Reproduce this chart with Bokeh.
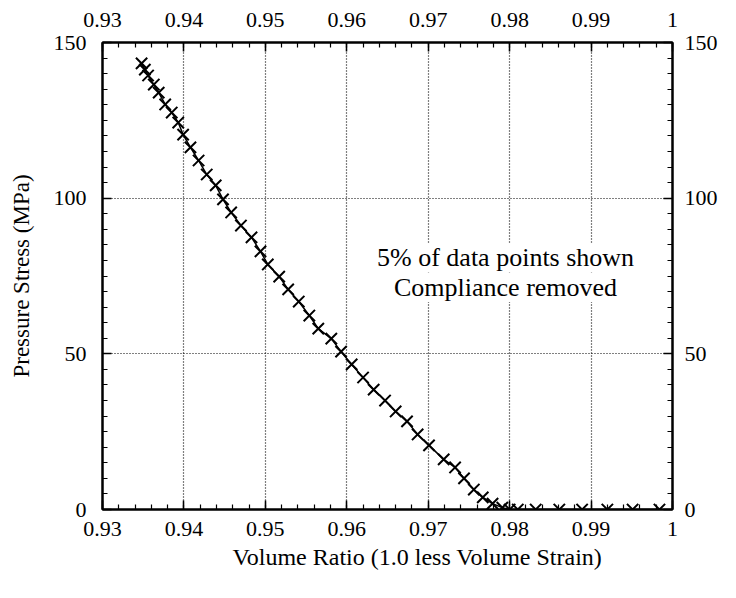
import numpy as np
from bokeh.plotting import figure
from bokeh.models import Range1d, LinearAxis, FixedTicker, ColumnDataSource, Label, Title
from bokeh.embed import file_html
from bokeh.resources import INLINE

# Data
volume_ratio = [0.9348, 0.9352, 0.9356, 0.9363, 0.9369, 0.9377, 0.9385, 0.9393, 0.9399,
                0.9408, 0.9418, 0.9428, 0.9439, 0.9448, 0.9458, 0.9470, 0.9483, 0.9494,
                0.9503, 0.9517, 0.9528, 0.9541, 0.9554, 0.9565, 0.9581, 0.9593, 0.9606,
                0.9620, 0.9633, 0.9647, 0.9660, 0.9674, 0.9687, 0.9701, 0.9719, 0.9733,
                0.9744, 0.9756, 0.9767, 0.9779, 0.9791, 0.9800, 0.9810, 0.9832, 0.9861,
                0.9889, 0.9920, 0.9951, 0.9984]
pressure = [143.3, 141.3, 139.4, 136.5, 133.9, 130.1, 127.5, 124.3, 120.4,
            116.3, 112.1, 107.6, 104.1, 99.6, 95.4, 91.2, 87.4, 82.9,
            78.7, 74.8, 70.7, 66.8, 62.3, 58.1, 54.9, 50.7, 46.6,
            42.4, 38.5, 35.0, 31.5, 28.3, 24.1, 20.6, 16.1, 13.5,
            10.0, 6.4, 3.9, 1.9, 0.6, 0.0, 0.0, 0.0, 0.0,
            0.0, 0.0, 0.0, 0.0]

x_ticks = [0.93, 0.94, 0.95, 0.96, 0.97, 0.98, 0.99, 1.0]
x_tick_labels = ["0.93", "0.94", "0.95", "0.96", "0.97", "0.98", "0.99", "1"]
y_ticks = [0, 50, 100, 150]
y_tick_labels = ["0", "50", "100", "150"]

note_lines = ["5% of data points shown", "Compliance removed"]

x_label = "Volume Ratio (1.0 less Volume Strain)"
y_label = "Pressure Stress (MPa)"

FONT = "Liberation Serif"
FS = "22px"
FS_TITLE = "23px"

x_minor = [round(v, 4) for v in np.arange(x_ticks[0], x_ticks[-1] + 1e-9, 0.002)]
y_minor = list(range(y_ticks[0], y_ticks[-1] + 1, 5))

p = figure(width=720, height=582, output_backend="svg", toolbar_location=None,
           x_range=Range1d(x_ticks[0], x_ticks[-1]), y_range=Range1d(y_ticks[0], y_ticks[-1]),
           min_border_left=102, min_border_right=47, min_border_top=42, min_border_bottom=73,
           x_axis_location="below", y_axis_location="left")
p.background_fill_color = "white"
p.border_fill_color = "white"
p.outline_line_color = "black"
p.outline_line_width = 2

xt = FixedTicker(ticks=x_ticks, minor_ticks=x_minor)
yt = FixedTicker(ticks=y_ticks, minor_ticks=y_minor)

p.add_layout(LinearAxis(), "above")
p.add_layout(LinearAxis(), "right")

xover = dict(zip(x_ticks, x_tick_labels))
yover = dict(zip(y_ticks, y_tick_labels))

for ax in p.axis:
    ax.major_tick_in = 9
    ax.major_tick_out = 0
    ax.minor_tick_in = 5
    ax.minor_tick_out = 0
    ax.axis_line_width = 2
    ax.major_tick_line_width = 1.5
    ax.minor_tick_line_width = 1.2
    ax.major_label_text_font = FONT
    ax.major_label_text_font_size = FS
    ax.major_label_text_color = "black"
    ax.axis_label_text_font = FONT
    ax.axis_label_text_font_size = FS_TITLE
    ax.axis_label_text_font_style = "normal"
    ax.axis_label_text_color = "black"

for ax in p.xaxis:
    ax.ticker = xt
    ax.major_label_overrides = xover
for ax in p.yaxis:
    ax.ticker = yt
    ax.major_label_overrides = yover

p.below[0].major_label_standoff = 12
p.above[0].major_label_standoff = 16
p.left[0].axis_label = y_label
p.left[0].major_label_standoff = 16
p.left[0].axis_label_standoff = 17
p.right[0].major_label_standoff = 12

for g in p.xgrid:
    g.ticker = FixedTicker(ticks=x_ticks)
for g in p.ygrid:
    g.ticker = FixedTicker(ticks=y_ticks)
p.grid.grid_line_color = "black"
p.grid.grid_line_dash = "1 2"
p.grid.grid_line_width = 1.2
p.grid.grid_line_alpha = 1.0

src = ColumnDataSource(dict(x=volume_ratio, y=pressure))
p.line("x", "y", source=src, line_color="black", line_width=1.5)
p.scatter("x", "y", source=src, marker="x", size=16, line_color="black", line_width=2)

# note (white box masks the grid, as in the reference)
for txt, yy in zip(note_lines, [80.8, 71.3]):
    p.add_layout(Label(x=0.9795, y=yy, text=txt, text_font=FONT, text_font_size="26px",
                       text_align="center", text_baseline="middle", text_color="black",
                       background_fill_color="white", background_fill_alpha=1.0))

# x-axis title, placed as in the reference (right of centre)
p.add_layout(Title(text=x_label, align="left", offset=130, standoff=6,
                   text_font=FONT, text_font_size="24px", text_font_style="normal",
                   text_color="black"), "below")

open("out.html", "w").write(file_html(p, INLINE))
